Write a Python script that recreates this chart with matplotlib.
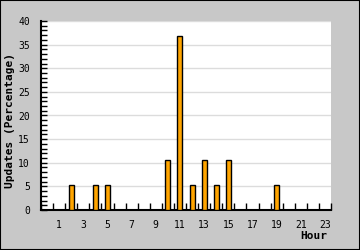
import matplotlib
matplotlib.use("Agg")
import matplotlib.pyplot as plt
from matplotlib.patches import Rectangle
from matplotlib.ticker import MultipleLocator, FixedLocator

hours = list(range(24))
values = [0, 0, 5.26, 0, 5.26, 5.26, 0, 0, 0, 0, 10.53, 36.84,
          5.26, 10.53, 5.26, 10.53, 0, 0, 0, 5.26, 0, 0, 0, 0]
tick_labels = [str(h) for h in range(1, 24, 2)]

font = "DejaVu Sans Mono"
fig = plt.figure(figsize=(3.6, 2.5), dpi=100)
fig.patch.set_facecolor("#c8c8c8")
fig.patches.append(Rectangle((0, 0), 1, 1, transform=fig.transFigure,
                             fill=False, edgecolor="black", linewidth=1.5))
ax = fig.add_axes([41/360, 40/250, 290/360, 189/250])
ax.set_facecolor("white")

bars_x = [h for h, v in zip(hours, values) if v > 0]
bars_v = [v for v in values if v > 0]
ax.bar(bars_x, bars_v, width=0.42, color="#ffa500", edgecolor="black",
       linewidth=1.0, zorder=3)

ax.set_xlim(-0.5, 23.5)
ax.set_ylim(0, 40)
ax.yaxis.set_major_locator(MultipleLocator(5))
ax.yaxis.set_minor_locator(MultipleLocator(1))
ax.grid(axis="y", which="major", color="#dcdcdc", linewidth=1.0, zorder=0)

ax.xaxis.set_major_locator(FixedLocator(list(range(1, 24, 2))))
ax.set_xticklabels(tick_labels, fontfamily=font, fontsize=7)
ax.xaxis.set_minor_locator(FixedLocator([h + 0.5 for h in range(-1, 24)]))
ax.tick_params(axis="x", which="major", length=0, pad=7)
ax.tick_params(axis="x", which="minor", direction="in", length=5, width=1, color="black")
ax.tick_params(axis="y", which="both", direction="in", length=4, width=1, color="black", pad=8)
for lab in ax.get_yticklabels():
    lab.set_fontfamily(font)
    lab.set_fontsize(7)

for s in ["top", "right"]:
    ax.spines[s].set_visible(False)
for s in ["left", "bottom"]:
    ax.spines[s].set_linewidth(1.5)

fig.text(10/360, 0.5 + 5/250, "Updates (Percentage)", rotation=90, ha="center", va="center",
         fontfamily=font, fontsize=8, fontweight="bold")
fig.text(327/360, 1 - 236/250, "Hour", ha="right", va="center",
         fontfamily=font, fontsize=8, fontweight="bold")

fig.savefig("out.png", dpi=100, facecolor=fig.get_facecolor())
